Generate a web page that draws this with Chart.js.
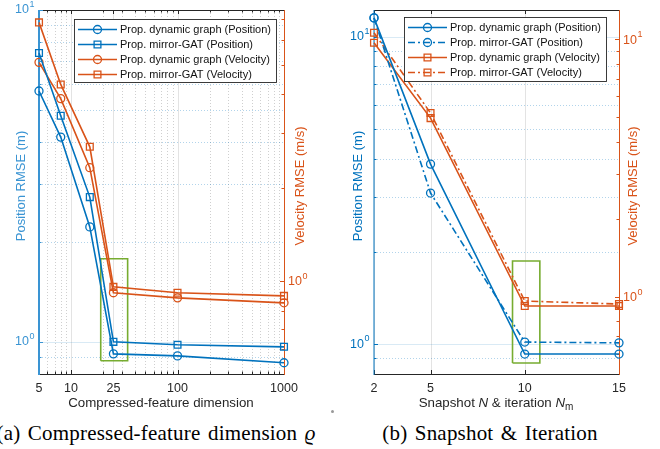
<!DOCTYPE html>
<html>
<head>
<meta charset="utf-8">
<script src="https://cdn.jsdelivr.net/npm/chart.js@4.4.1/dist/chart.umd.min.js"></script>
<style>
  body { margin: 0; width: 660px; height: 449px; background: #fff; position: relative; overflow: hidden; }
  canvas { position: absolute; top: 0; }
  #chartA { left: 0; }
  #chartB { left: 330px; }
  .caption { position: absolute; top: 423px; line-height: 20px; font-family: "Liberation Serif", "Times New Roman", serif;
             font-size: 21px; color: #000; white-space: nowrap; transform: translateX(-50%); letter-spacing: 0.2px; word-spacing: 2px; }
  .dot { position: absolute; left: 331px; top: 410px; width: 3px; height: 3px; border-radius: 50%; background: #999; }
</style>
</head>
<body>
<canvas id="chartA" width="330" height="420"></canvas>
<canvas id="chartB" width="330" height="420"></canvas>
<div class="caption" style="left:156px">(a) Compressed-feature dimension <i>ϱ</i></div>
<div class="caption" style="left:490px">(b) Snapshot &amp; Iteration</div>
<div class="dot"></div>
<script>
// (a) RMSE vs compressed-feature dimension
const dimValues = [5, 8, 15, 25, 100, 1000];
const posDynA = [5.70, 4.14, 2.22, 0.92, 0.907, 0.865];
const posMirA = [7.42, 4.80, 2.73, 1.00, 0.98, 0.966];
const velDynA = [5.08, 3.88, 2.32, 0.915, 0.881, 0.849];
const velMirA = [6.84, 4.31, 2.71, 0.956, 0.915, 0.894];
const boxAx = [19, 34];
const boxAy = [0.877, 1.78];
const dimTicks = [5, 10, 25, 100, 1000];

// (b) RMSE vs snapshot / iteration count
const snapValues = [2, 5, 10, 15];
const posDynB = [11.5, 3.85, 0.929, 0.929];
const posMirB = [11.5, 3.10, 1.016, 1.01];
const velDynB = [9.7, 4.94, 0.919, 0.919];
const velMirB = [10.6, 5.17, 0.961, 0.935];
const boxBx = [9.35, 10.8];
const boxBy = [0.869, 1.864];
const snapTicks = [2, 5, 10, 15];

const blue = '#0072BD', orange = '#D95319', green = '#77AC30', ink = '#262626';
const sans = '"Liberation Sans", Arial, sans-serif';

const decadeMinor = (lo, hi) => {
  const out = [];
  for (let e = -1; e <= 3; e++) {
    for (let m = 2; m <= 9; m++) {
      const v = m * Math.pow(10, e);
      if (v > lo && v < hi) out.push(v);
    }
  }
  return out;
};

function series(label, xs, ys, color, style, axis, dash) {
  return {
    label, yAxisID: axis,
    data: xs.map((x, i) => ({ x, y: ys[i] })),
    borderColor: color, backgroundColor: 'transparent', borderWidth: 1.6,
    borderDash: dash || [],
    pointStyle: style, pointRadius: style === 'rect' ? 4.8 : 4,
    pointBorderWidth: 1.3, pointBorderColor: color, pointBackgroundColor: 'transparent',
    pointHoverRadius: 4, tension: 0, clip: false
  };
}

function boxSeries(xs, ys) {
  return {
    label: 'zoom', legend: false, yAxisID: 'y',
    data: [
      { x: xs[0], y: ys[0] }, { x: xs[1], y: ys[0] }, { x: xs[1], y: ys[1] },
      { x: xs[0], y: ys[1] }, { x: xs[0], y: ys[0] }
    ],
    borderColor: green, borderWidth: 1.6, pointRadius: 0, tension: 0, clip: false
  };
}

function drawPow(ctx, exp, x, y, align, color) {
  ctx.fillStyle = color;
  ctx.textBaseline = 'middle';
  ctx.textAlign = 'left';
  ctx.font = '12.5px ' + sans;
  const wb = ctx.measureText('10').width;
  ctx.font = '9px ' + sans;
  const we = ctx.measureText(String(exp)).width;
  const x0 = align === 'right' ? x - wb - we : x;
  ctx.font = '12.5px ' + sans;
  ctx.fillText('10', x0, y);
  ctx.font = '9px ' + sans;
  ctx.fillText(String(exp), x0 + wb + 0.5, y - 5.5);
}

function drawRuns(ctx, runs, cx, y) {
  const fontFor = r => (r.italic ? 'italic ' : '') + (r.sub ? '10px ' : '13.3px ') + sans;
  let total = 0;
  runs.forEach(r => { ctx.font = fontFor(r); total += ctx.measureText(r.t).width; });
  let x = cx - total / 2;
  ctx.textAlign = 'left';
  ctx.textBaseline = 'alphabetic';
  runs.forEach(r => {
    ctx.font = fontFor(r);
    ctx.fillText(r.t, x, r.sub ? y + 3 : y);
    x += ctx.measureText(r.t).width;
  });
}

function marker(ctx, style, r, x, y) {
  ctx.beginPath();
  if (style === 'rect') {
    const s = r * Math.SQRT1_2;
    ctx.rect(x - s, y - s, 2 * s, 2 * s);
  } else {
    ctx.arc(x, y, r, 0, Math.PI * 2);
  }
  ctx.stroke();
}

// MATLAB-style axes: boxed frame, inward ticks, dotted minor grid, legend box
const frame = {
  id: 'frame',
  beforeDatasetsDraw(chart, args, o) {
    const { ctx, chartArea: a, scales } = chart;
    const px = v => Math.round(scales.x.getPixelForValue(v)) + 0.5;
    const py = v => Math.round(scales.y.getPixelForValue(v)) + 0.5;
    const py1 = v => Math.round(scales.y1.getPixelForValue(v)) + 0.5;
    const seg = (x1, y1, x2, y2) => { ctx.beginPath(); ctx.moveTo(x1, y1); ctx.lineTo(x2, y2); ctx.stroke(); };
    ctx.save();
    ctx.lineWidth = 1;

    ctx.setLineDash([1, 2]);
    ctx.strokeStyle = 'rgba(38,38,38,0.22)';
    o.xMinor.forEach(v => seg(px(v), a.top, px(v), a.bottom));
    ctx.strokeStyle = 'rgba(0,114,189,0.3)';
    o.yMinor.forEach(v => seg(a.left, py(v), a.right, py(v)));
    ctx.setLineDash([]);
    ctx.strokeStyle = 'rgba(38,38,38,0.13)';
    o.xMajor.forEach(v => seg(px(v), a.top, px(v), a.bottom));
    ctx.strokeStyle = 'rgba(0,114,189,0.15)';
    o.yMajor.forEach(v => seg(a.left, py(v), a.right, py(v)));

    // x ticks on bottom and top edges
    ctx.strokeStyle = ink;
    o.xMajor.forEach(v => { seg(px(v), a.bottom, px(v), a.bottom - 4); seg(px(v), a.top, px(v), a.top + 4); });
    o.xMinor.forEach(v => { seg(px(v), a.bottom, px(v), a.bottom - 2.5); seg(px(v), a.top, px(v), a.top + 2.5); });
    seg(a.left, a.top + 0.5, a.right, a.top + 0.5);
    seg(a.left, a.bottom + 0.5, a.right, a.bottom + 0.5);

    ctx.strokeStyle = o.leftColor;
    o.yMajor.forEach(v => seg(a.left, py(v), a.left + 4, py(v)));
    o.yMinor.forEach(v => seg(a.left, py(v), a.left + 2.5, py(v)));
    ctx.lineWidth = o.leftWidth;
    seg(a.left, a.top, a.left, a.bottom + 1);

    ctx.lineWidth = 1;
    ctx.strokeStyle = orange;
    o.y1Major.forEach(v => seg(a.right, py1(v), a.right - 4, py1(v)));
    o.y1Minor.forEach(v => seg(a.right, py1(v), a.right - 2.5, py1(v)));
    seg(a.right + 0.5, a.top, a.right + 0.5, a.bottom + 1);
    ctx.restore();
  },
  afterDatasetsDraw(chart, args, o) {
    const { ctx, chartArea: a, scales } = chart;
    ctx.save();

    // tick labels
    ctx.fillStyle = ink;
    ctx.font = '12.5px ' + sans;
    ctx.textAlign = 'center';
    ctx.textBaseline = 'middle';
    o.xMajor.forEach(v => ctx.fillText(String(v), scales.x.getPixelForValue(v), a.bottom + 14.5));
    [[0, 1], [1, 10]].forEach(([e, v]) => {
      if (v >= scales.y.min && v <= scales.y.max) drawPow(ctx, e, a.left - 5, scales.y.getPixelForValue(v), 'right', o.leftColor);
      if (v >= scales.y1.min && v <= scales.y1.max) drawPow(ctx, e, a.right + 4, scales.y1.getPixelForValue(v) + 1, 'left', orange);
    });

    // axis titles
    ctx.fillStyle = ink;
    drawRuns(ctx, o.xTitle, o.xTitleX, a.bottom + 32.5);
    const midY = (a.top + a.bottom) / 2 - 6;
    [[o.yTitle, a.left - o.yTitleGap, o.leftColor], [o.y1Title, a.right + o.y1TitleGap, orange]].forEach(([t, x, c]) => {
      ctx.save();
      ctx.translate(x, midY);
      ctx.rotate(-Math.PI / 2);
      ctx.fillStyle = c;
      ctx.font = '13px ' + sans;
      ctx.textAlign = 'center';
      ctx.textBaseline = 'middle';
      ctx.fillText(t, 0, 0);
      ctx.restore();
    });

    // legend
    const lg = o.legend;
    ctx.fillStyle = '#fff';
    ctx.fillRect(lg.x, lg.y, lg.w, lg.h);
    ctx.strokeStyle = ink;
    ctx.lineWidth = 0.9;
    ctx.strokeRect(lg.x + 0.5, lg.y + 0.5, lg.w, lg.h);
    chart.data.datasets.filter(d => d.legend !== false).forEach((d, i) => {
      const cy = lg.y + 10.5 + i * 15;
      ctx.strokeStyle = d.borderColor;
      ctx.lineWidth = 1.6;
      ctx.setLineDash(d.borderDash);
      ctx.beginPath();
      ctx.moveTo(lg.x + 4, cy);
      ctx.lineTo(lg.x + 43, cy);
      ctx.stroke();
      ctx.setLineDash([]);
      ctx.lineWidth = 1.3;
      marker(ctx, d.pointStyle, d.pointRadius, lg.x + 23.5, cy);
      ctx.fillStyle = '#111';
      ctx.font = '11px ' + sans;
      ctx.textAlign = 'left';
      ctx.textBaseline = 'middle';
      ctx.fillText(d.label, lg.x + 46, cy + 0.5);
    });
    ctx.restore();
  }
};

function baseOptions(padding, xScale, yRange, y1Range, frameOpts) {
  return {
    responsive: false,
    animation: false,
    devicePixelRatio: 1,
    layout: { padding },
    events: [],
    plugins: { legend: { display: false }, tooltip: { enabled: false }, frame: frameOpts },
    scales: {
      x: Object.assign({ display: false, bounds: 'data' }, xScale),
      y: { type: 'logarithmic', display: false, bounds: 'data', position: 'left', min: yRange[0], max: yRange[1] },
      y1: { type: 'logarithmic', display: false, bounds: 'data', position: 'right', min: y1Range[0], max: y1Range[1] }
    }
  };
}

new Chart('chartA', {
  type: 'line',
  plugins: [frame],
  data: {
    datasets: [
      series('Prop. dynamic graph (Position)', dimValues, posDynA, blue, 'circle', 'y'),
      series('Prop. mirror-GAT (Position)', dimValues, posMirA, blue, 'rect', 'y'),
      series('Prop. dynamic graph (Velocity)', dimValues, velDynA, orange, 'circle', 'y1'),
      series('Prop. mirror-GAT (Velocity)', dimValues, velMirA, orange, 'rect', 'y1'),
      boxSeries(boxAx, boxAy)
    ]
  },
  options: baseOptions(
    { left: 39, right: 46, top: 10, bottom: 46 },
    { type: 'logarithmic', min: 5, max: 1000 },
    [0.8, 10], [0.5, 7.5],
    {
      xMajor: dimTicks, xMinor: decadeMinor(5, 1000).filter(v => !dimTicks.includes(v)),
      yMajor: [1, 10], yMinor: decadeMinor(0.8, 10),
      y1Major: [1], y1Minor: decadeMinor(0.5, 7.5),
      leftColor: '#3a94d3', leftWidth: 2,
      xTitle: [{ t: 'Compressed-feature dimension' }], xTitleX: 161,
      yTitle: 'Position RMSE (m)', yTitleGap: 18,
      y1Title: 'Velocity RMSE (m/s)', y1TitleGap: 16,
      legend: { x: 74, y: 19, w: 202, h: 63 }
    })
});

new Chart('chartB', {
  type: 'line',
  plugins: [frame],
  data: {
    datasets: [
      series('Prop. dynamic graph (Position)', snapValues, posDynB, blue, 'circle', 'y'),
      series('Prop. mirror-GAT (Position)', snapValues, posMirB, blue, 'circle', 'y', [7, 3, 2, 3]),
      series('Prop. dynamic graph (Velocity)', snapValues, velDynB, orange, 'rect', 'y1'),
      series('Prop. mirror-GAT (Velocity)', snapValues, velMirB, orange, 'rect', 'y1', [7, 3, 2, 3]),
      boxSeries(boxBx, boxBy)
    ]
  },
  options: baseOptions(
    { left: 44, right: 41, top: 10, bottom: 46 },
    { type: 'linear', min: 2, max: 15 },
    [0.8, 12.2], [0.5, 13],
    {
      xMajor: snapTicks, xMinor: [],
      yMajor: [1, 10], yMinor: decadeMinor(0.8, 12.2),
      y1Major: [1, 10], y1Minor: decadeMinor(0.5, 13),
      leftColor: blue, leftWidth: 1,
      xTitle: [{ t: 'Snapshot ' }, { t: 'N', italic: true }, { t: ' & iteration ' }, { t: 'N', italic: true }, { t: 'm', sub: true }],
      xTitleX: 166,
      yTitle: 'Position RMSE (m)', yTitleGap: 16,
      y1Title: 'Velocity RMSE (m/s)', y1TitleGap: 14,
      legend: { x: 74, y: 17, w: 202, h: 64 }
    })
});
</script>
</body>
</html>
